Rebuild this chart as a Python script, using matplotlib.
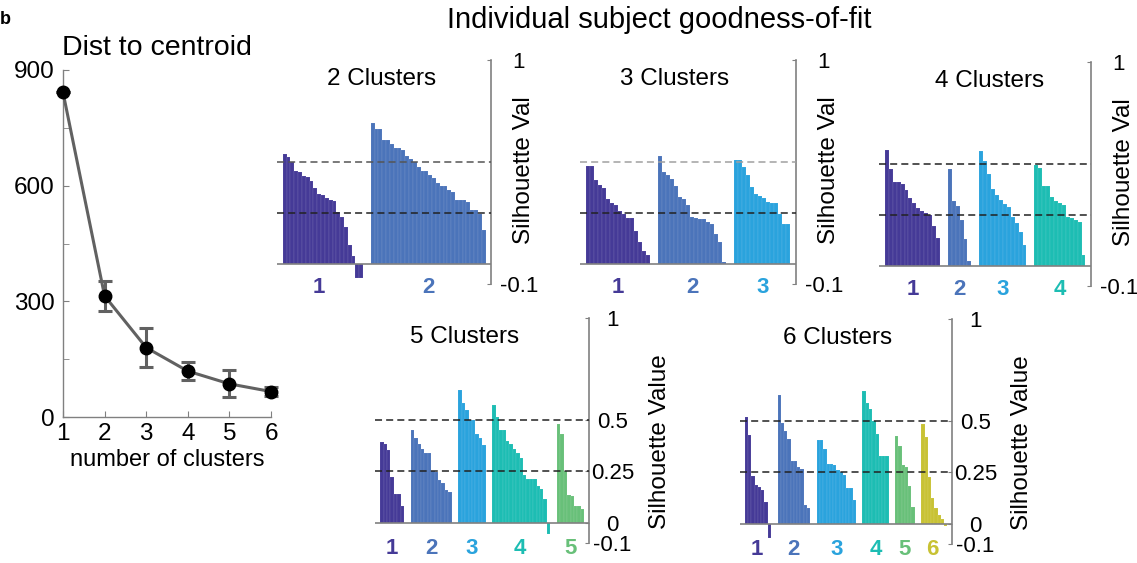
import numpy as np
import matplotlib
matplotlib.use("Agg")
import matplotlib.pyplot as plt

plt.rcParams["font.family"] = ["Liberation Sans", "DejaVu Sans"]

# ---- distance-to-centroid curve ----
n_clusters = [1, 2, 3, 4, 5, 6]
dist_mean = [842, 314, 180, 119, 86, 66]
dist_err = [0, 40, 50, 24, 35, 12]

# ---- per-subject silhouette values, one list per cluster ----
sil_k2 = [
    [0.54, 0.526, 0.50, 0.454, 0.45, 0.432, 0.427, 0.404, 0.372, 0.342, 0.336,
     0.323, 0.313, 0.306, 0.254, 0.231, 0.178, 0.093, 0.036, -0.07, -0.07],
    [0.691, 0.66, 0.66, 0.606, 0.606, 0.588, 0.566, 0.566, 0.56, 0.527, 0.516,
     0.498, 0.475, 0.454, 0.454, 0.437, 0.421, 0.396, 0.38, 0.38, 0.363, 0.352,
     0.314, 0.314, 0.314, 0.303, 0.265, 0.265, 0.246, 0.167],
]
sil_k3 = [
    [0.479, 0.479, 0.413, 0.386, 0.369, 0.317, 0.296, 0.288, 0.258, 0.242,
     0.222, 0.222, 0.162, 0.108, 0.062, 0.042],
    [0.529, 0.448, 0.435, 0.418, 0.382, 0.328, 0.317, 0.288, 0.23, 0.222,
     0.217, 0.217, 0.206, 0.194, 0.144, 0.108, 0.007],
    [0.508, 0.508, 0.475, 0.435, 0.377, 0.34, 0.333, 0.32, 0.301, 0.296,
     0.296, 0.242, 0.194, 0.194],
]
sil_k4 = [
    [0.569, 0.474, 0.413, 0.41, 0.402, 0.372, 0.331, 0.31, 0.282, 0.27,
     0.257, 0.249, 0.195, 0.134],
    [0.475, 0.315, 0.295, 0.225, 0.13, 0.025],
    [0.561, 0.516, 0.451, 0.375, 0.348, 0.32, 0.303, 0.29, 0.238, 0.208,
     0.167, 0.102],
    [0.492, 0.479, 0.393, 0.393, 0.336, 0.315, 0.307, 0.298, 0.241, 0.233,
     0.225, 0.216, 0.052],
]
sil_k5 = [
    [0.394, 0.386, 0.357, 0.223, 0.142, 0.138, 0.08],
    [0.451, 0.415, 0.386, 0.362, 0.34, 0.34, 0.252, 0.248, 0.21, 0.191,
     0.158, 0.15],
    [0.647, 0.586, 0.549, 0.5, 0.5, 0.435, 0.415, 0.378],
    [0.577, 0.516, 0.454, 0.454, 0.399, 0.386, 0.362, 0.34, 0.318, 0.231,
     0.213, 0.213, 0.212, 0.178, 0.166, 0.117, -0.057],
    [0.484, 0.435, 0.252, 0.137, 0.129, 0.08, 0.08, 0.064],
]
sil_k6 = [
    [0.521, 0.432, 0.231, 0.187, 0.179, 0.163, 0.106, -0.073],
    [0.63, 0.492, 0.453, 0.415, 0.305, 0.305, 0.274, 0.269, 0.093, 0.077],
    [0.407, 0.407, 0.366, 0.293, 0.293, 0.285, 0.261, 0.252, 0.236, 0.176,
     0.176, 0.114],
    [0.647, 0.59, 0.562, 0.502, 0.436, 0.329, 0.329, 0.329],
    [0.427, 0.38, 0.285, 0.274, 0.182, 0.081],
    [0.489, 0.423, 0.228, 0.127, 0.078, 0.041, 0.024, -0.012],
]

cluster_colors = ["#453A97", "#4B74BA", "#2AA3DD", "#1DBDB3", "#68C079", "#C8C234"]
panel_titles = ["2 Clusters", "3 Clusters", "4 Clusters", "5 Clusters", "6 Clusters"]
guide_levels = [0.5, 0.25]

W, H = 1137, 563
fig = plt.figure(figsize=(W / 100, H / 100), dpi=100)


def px_axes(left, top, right, bottom):
    """Create axes from pixel edges measured from the top-left corner."""
    return fig.add_axes([left / W, 1 - bottom / H, (right - left) / W, (bottom - top) / H])


GRAY = "#808080"

# ---------------- left: distance to centroid ----------------
ax0 = px_axes(63, 70, 271, 417)
ax0.errorbar(n_clusters, dist_mean, yerr=dist_err, color="#616161", lw=2.2,
             ecolor="#616161", elinewidth=2.2, capsize=5, capthick=2.2,
             marker="o", ms=9, mfc="black", mec="black", clip_on=False, zorder=3)
ax0.set_xlim(1, 6)
ax0.set_ylim(0, 900)
ax0.set_xticks(n_clusters)
ax0.set_yticks([0, 300, 600, 900])
ax0.set_yticks([150, 450, 750], minor=True)
for s in ("top", "right"):
    ax0.spines[s].set_visible(False)
for s in ("left", "bottom"):
    ax0.spines[s].set_color(GRAY)
    ax0.spines[s].set_linewidth(1.0)
ax0.tick_params(which="both", direction="in", length=4, color=GRAY, labelsize=17.5)
ax0.tick_params(axis="y", pad=6)
ax0.tick_params(axis="x", pad=4)
ax0.set_xlabel("number of clusters", fontsize=17, labelpad=3)
fig.text(157 / W, 1 - 48 / H, "Dist to centroid", fontsize=20.5, ha="center", va="center")
fig.text(0.0, 1 - 20 / H, "b", fontsize=13, fontweight="bold", ha="left", va="center")

fig.text(659 / W, 1 - 20 / H, "Individual subject goodness-of-fit",
         fontsize=21, ha="center", va="center")

# ---------------- right: silhouette panels ----------------
GAP, LEFT_PAD, RIGHT_PAD = 2.0, 1.5, 1.4

panels = [
    # data, pixel box (left, y at 1, right spine, y at -0.1), title x,
    # full tick labels, colour of the 0.5 guide
    (sil_k2, (277, 60, 491, 284), 0.49, False, "#555555"),
    (sil_k3, (580, 60, 796, 284), 0.44, False, "#a0a0a0"),
    (sil_k4, (879, 62, 1091, 286), 0.52, False, "#222222"),
    (sil_k5, (375, 318, 589, 543), 0.42, True, "#222222"),
    (sil_k6, (740, 319, 952, 544), 0.46, True, "#222222"),
]

for (clusters, box, title_x, full, upper_col), title in zip(panels, panel_titles):
    ax = px_axes(*box)
    x0 = 0.0
    label_y = -0.127 if full else -0.117
    for i, vals in enumerate(clusters):
        vals = np.asarray(vals)
        pos = x0 + np.arange(len(vals)) + 0.5
        ax.bar(pos, vals, width=1.0, color=cluster_colors[i],
               edgecolor=(1, 1, 1, 0.18), linewidth=0.35, zorder=2)
        centre = pos[vals > 0].mean()
        ax.text(centre, label_y, str(i + 1), color=cluster_colors[i],
                fontsize=16, fontweight="bold", ha="center", va="center")
        x0 += len(vals) + GAP
    ax.set_xlim(-LEFT_PAD, x0 - GAP + RIGHT_PAD)
    ax.set_ylim(-0.1, 1)

    ax.axhline(0, color=GRAY, lw=1.2, zorder=3)
    for lvl, col in zip(guide_levels, [upper_col, "#222222"]):
        ax.axhline(lvl, color=col, lw=1.1, dashes=(4.6, 2.7), zorder=4)

    for s in ("top", "left", "bottom"):
        ax.spines[s].set_visible(False)
    ax.spines["right"].set_color(GRAY)
    ax.spines["right"].set_linewidth(1.2)
    ax.set_xticks([])
    ax.yaxis.tick_right()
    if full:
        ax.set_yticks([-0.1, 0, 0.25, 0.5, 1], ["-0.1", "0", "0.25", "0.5", "1"])
        pad = 17
    else:
        ax.set_yticks([-0.1, 1], ["-0.1", "1"])
        pad = 20
    ax.tick_params(axis="y", direction="in", length=3, color=GRAY,
                   labelsize=16, pad=pad)
    for lab in ax.get_yticklabels():
        lab.set_ha("center")

    ax.yaxis.set_label_position("right")
    ax.set_ylabel("Silhouette Value" if full else "Silhouette Val", fontsize=17.5)
    ax.yaxis.label.set_va("center")
    if full:
        ax.yaxis.set_label_coords(1 + 71 / 214, 0.45)
    else:
        ax.yaxis.set_label_coords(1 + 33 / 214, 0.51)

    # panel title sits inside the axes, just below the top of the scale
    ax.text(title_x, 0.905, title, fontsize=17.5, ha="center", va="center",
            transform=ax.get_yaxis_transform())

fig.savefig("out.png", dpi=100)
